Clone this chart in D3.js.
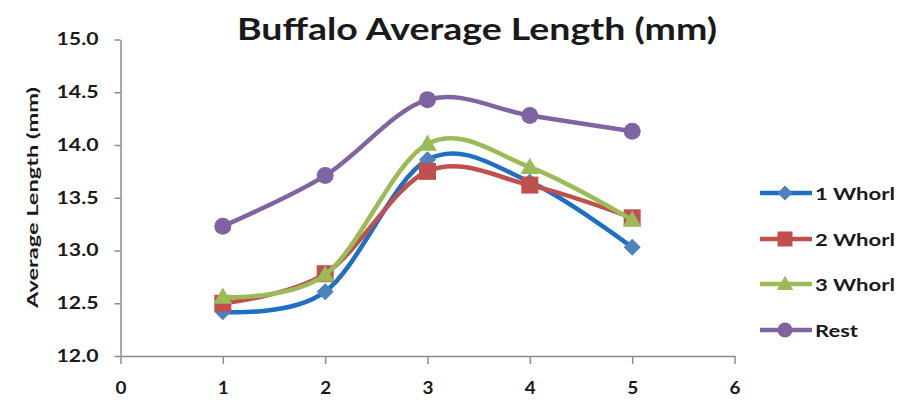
<!DOCTYPE html>
<html>
<head>
<meta charset="utf-8">
<script src="https://cdn.jsdelivr.net/npm/d3@7"></script>
<style>
  html, body { margin: 0; padding: 0; background: #fff; }
  svg { display: block; }
  text { font-family: Lato, "Open Sans", sans-serif; fill: #1a1a1a; }
</style>
</head>
<body>
<svg id="chart" width="914" height="404"></svg>
<script>
// ---- data ----
const xValues = [1, 2, 3, 4, 5];
const whorl1 = [12.42, 12.61, 13.86, 13.65, 13.03];
const whorl2 = [12.50, 12.78, 13.75, 13.62, 13.31];
const whorl3 = [12.56, 12.77, 14.01, 13.79, 13.29];
const rest   = [13.23, 13.71, 14.43, 14.28, 14.13];
const seriesNames = ["1 Whorl", "2 Whorl", "3 Whorl", "Rest"];
const xTicks = [0, 1, 2, 3, 4, 5, 6];
const yTicks = [12.0, 12.5, 13.0, 13.5, 14.0, 14.5, 15.0];
const titleText = "Buffalo Average Length (mm)";
const yTitleText = "Average Length (mm)";

const series = [
  { name: seriesNames[0], values: whorl1, line: "#1F6FC3", fill: "#4F81BD", marker: "diamond" },
  { name: seriesNames[1], values: whorl2, line: "#C0504D", fill: "#C0504D", marker: "square" },
  { name: seriesNames[2], values: whorl3, line: "#9BBB59", fill: "#9BBB59", marker: "triangle" },
  { name: seriesNames[3], values: rest,   line: "#8064A2", fill: "#8064A2", marker: "circle" }
];

const svg = d3.select("#chart");
const x = d3.scaleLinear().domain([0, 6]).range([120.5, 734.5]);
const y = d3.scaleLinear().domain([12, 15]).range([356, 39.5]);

// title
svg.append("text")
  .attr("x", 237).attr("y", 40)
  .attr("font-size", 29.5).attr("font-weight", 700)
  .attr("textLength", 480).attr("lengthAdjust", "spacingAndGlyphs")
  .text(titleText);

// y axis title
svg.append("text")
  .attr("transform", "translate(38,197.5) rotate(-90)")
  .attr("text-anchor", "middle")
  .attr("font-size", 15).attr("font-weight", 700)
  .attr("textLength", 221).attr("lengthAdjust", "spacingAndGlyphs")
  .text(yTitleText);

// axes
const axisColor = "#8c8c8c";
const yAxis = svg.append("g")
  .attr("transform", `translate(${x(0)},0)`)
  .call(d3.axisLeft(y).tickValues(yTicks).tickFormat(d3.format(".1f")).tickSize(6).tickSizeOuter(0).tickPadding(16));
yAxis.selectAll("text")
  .attr("font-size", 16.5).attr("font-weight", 700)
  .attr("textLength", 42).attr("lengthAdjust", "spacingAndGlyphs")
  .style("font-family", "Lato, 'Open Sans', sans-serif").attr("fill", "#1a1a1a");

const xAxis = svg.append("g")
  .attr("transform", `translate(0,${y(12)})`)
  .call(d3.axisBottom(x).tickValues(xTicks).tickFormat(d3.format("d")).tickSize(8).tickSizeOuter(0).tickPadding(18));
xAxis.selectAll("text")
  .attr("font-size", 16.5).attr("font-weight", 700)
  .attr("textLength", 11).attr("lengthAdjust", "spacingAndGlyphs")
  .style("font-family", "Lato, 'Open Sans', sans-serif").attr("fill", "#1a1a1a");

[yAxis, xAxis].forEach(g => {
  g.select(".domain").attr("stroke", axisColor).attr("stroke-width", 1.5);
  g.selectAll(".tick line").attr("stroke", axisColor).attr("stroke-width", 1.5);
});

// marker paths
function markerPath(type, s) {
  if (type === "diamond") return `M0,${-s}L${s},0L0,${s}L${-s},0Z`;
  if (type === "square") return `M${-s},${-s}H${s}V${s}H${-s}Z`;
  if (type === "triangle") return `M0,${-s * 1.1}L${s * 1.1},${s * 0.8}L${-s * 1.1},${s * 0.8}Z`;
  return d3.arc()({ innerRadius: 0, outerRadius: s, startAngle: 0, endAngle: 2 * Math.PI });
}
const markerSize = { diamond: 8.5, square: 8.5, triangle: 8.5, circle: 8.5 };

const line = d3.line()
  .x((d, i) => x(xValues[i]))
  .y(d => y(d))
  .curve(d3.curveCardinal.tension(0));

series.forEach(s => {
  const g = svg.append("g");
  g.append("path")
    .attr("d", line(s.values))
    .attr("fill", "none")
    .attr("stroke", s.line)
    .attr("stroke-width", 4.5)
    .attr("stroke-linejoin", "round");
  g.selectAll("path.m").data(s.values).join("path")
    .attr("class", "m")
    .attr("transform", (d, i) => `translate(${x(xValues[i])},${y(d)})`)
    .attr("d", markerPath(s.marker, markerSize[s.marker]))
    .attr("fill", s.fill);
});

// legend
const legendY = [193, 239, 284, 330];
series.forEach((s, i) => {
  const g = svg.append("g").attr("transform", `translate(0,${legendY[i]})`);
  g.append("line").attr("x1", 760).attr("x2", 812).attr("y1", 0).attr("y2", 0)
    .attr("stroke", s.line).attr("stroke-width", 4.5);
  g.append("path").attr("transform", "translate(785,0)")
    .attr("d", markerPath(s.marker, 7.5)).attr("fill", s.fill);
  g.append("text").attr("x", 815).attr("y", 6.5)
    .attr("font-size", 17.5).attr("font-weight", 700)
    .attr("textLength", s.name === "Rest" ? 43 : 80).attr("lengthAdjust", "spacingAndGlyphs")
    .text(s.name);
});
</script>
</body>
</html>
